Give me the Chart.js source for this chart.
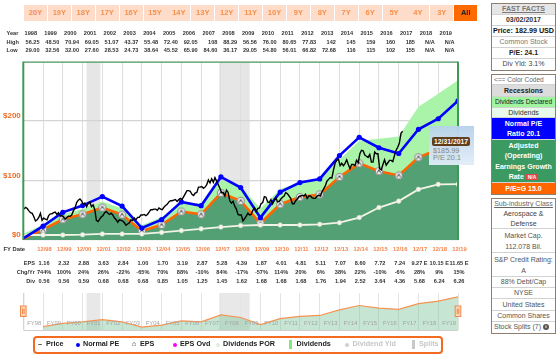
<!DOCTYPE html>
<html>
<head>
<meta charset="utf-8">
<script src="https://cdn.jsdelivr.net/npm/chart.js@4.4.1/dist/chart.umd.min.js"></script>
<style>
body{margin:0;width:558px;height:358px;overflow:hidden;background:#fff;position:relative;font-family:"Liberation Sans",Arial,sans-serif}
canvas{position:absolute;left:0;top:0}
.btn{position:absolute;top:5px;width:23px;height:16px;background:#fddcca;color:#f7904a;font:bold 7.5px "Liberation Sans";text-align:center;line-height:16px}
.btn.on{background:#ff6a00;color:#222}
.box{position:absolute;left:491px;width:63px;border:1.5px solid #8d7f70;background:#fff}
.row{box-sizing:border-box;text-align:center;font-size:7px;color:#555;border-bottom:1px solid #d2d2d2;overflow:hidden;white-space:nowrap}
.row:last-child{border-bottom:none}
.b{font-weight:bold}
#legend{position:absolute;left:33px;top:336px;width:406px;height:14px;border:2px solid #f26b21;border-radius:4px}
.lg{position:absolute;top:339px;font:bold 7.2px "Liberation Sans";color:#222;line-height:10px;white-space:nowrap}
.dot{position:absolute;width:4px;height:4px;border-radius:50%}
#tip{position:absolute;left:429px;top:126px;width:45px;height:39px;background:linear-gradient(#b7d1eb,#e3eef9);opacity:.95}
#tip .tl{position:absolute;left:3px;top:11px;width:38px;height:9px;background:#5c3513;color:#fff;font:bold 6.8px "Liberation Sans";line-height:9px;text-align:center;border-radius:2px}
#tip .tv{position:absolute;left:4px;font:7.3px "Liberation Sans";color:#888;line-height:8px}
</style>
</head>
<body>
<canvas id="main" width="558" height="358"></canvas>
<canvas id="nav" width="558" height="358"></canvas>
<div id="ranges"></div>

<div class="box" style="top:3px">
  <div class="row b" style="height:11px;line-height:10px;background:#e6e6e6;color:#777;text-decoration:underline">FAST FACTS</div>
  <div class="row b" style="height:11px;line-height:10px;color:#333">03/02/2017</div>
  <div class="row b" style="height:11px;line-height:10px;color:#111;font-size:7.2px">Price: 182.99 USD</div>
  <div class="row" style="height:11px;line-height:10px;color:#777">Common Stock</div>
  <div class="row b" style="height:11px;line-height:10px;color:#222">P/E: 24.1</div>
  <div class="row" style="height:11px;line-height:10px;color:#444">Div Yld: 3.1%</div>
</div>

<div class="box" style="top:74px">
  <div class="row" style="height:10px;line-height:9px;color:#666;font-size:6.5px;text-align:left;padding-left:2px">&lt;== Color Coded</div>
  <div class="row b" style="height:12px;line-height:11px;background:#dcdcdc;color:#222">Recessions</div>
  <div class="row" style="height:11px;line-height:10px;background:#9ef59e;color:#222;font-size:6.6px">Dividends Declared</div>
  <div class="row" style="height:10px;line-height:9px;background:#eafaea;color:#333">Dividends</div>
  <div class="row b" style="height:22px;line-height:10px;padding-top:1px;background:#0000ff;color:#fff;white-space:normal">Normal P/E<br>Ratio 20.1</div>
  <div class="row b" style="height:43px;line-height:10.3px;padding-top:1px;background:#3b9a62;color:#fff;white-space:normal">Adjusted<br>(Operating)<br>Earnings Growth<br>Rate <span style="background:#e8404a;color:#fff;font-size:5px;padding:0 2px;border-radius:1px">N/A</span></div>
  <div class="row b" style="height:11px;line-height:11px;background:#ff6600;color:#fff">P/E=G 15.0</div>
</div>

<div class="box" style="top:198px">
  <div class="row" style="height:10px;line-height:10px;color:#666;text-decoration:underline;border-bottom:none">Sub-industry Class</div>
  <div class="row" style="height:20px;line-height:9.5px;color:#444;white-space:normal">Aerospace &amp;<br>Defense</div>
  <div class="row" style="height:24px;line-height:11px;padding-top:1px;color:#555;white-space:normal">Market Cap.<br>112.078 Bil.</div>
  <div class="row" style="height:24px;line-height:11px;padding-top:1px;color:#555;white-space:normal">S&amp;P Credit Rating:<br>A</div>
  <div class="row" style="height:11px;line-height:10px">88% Debt/Cap</div>
  <div class="row" style="height:11px;line-height:10px">NYSE</div>
  <div class="row" style="height:12px;line-height:11px">United States</div>
  <div class="row" style="height:11px;line-height:10px">Common Shares</div>
  <div class="row" style="height:11px;line-height:10px;text-align:left;padding-left:2px">Stock Splits (7) <span style="display:inline-block;width:6px;height:6px;border-radius:50%;background:#555;color:#fff;font:bold 5px serif;line-height:6px;text-align:center;vertical-align:middle">i</span></div>
</div>

<div id="legend"></div>
<div class="lg" style="left:38px">–</div><div class="lg" style="left:46px">Price</div>
<div class="dot" style="left:75.5px;top:343px;background:#0000ff"></div><div class="lg" style="left:83px">Normal PE</div>
<div class="lg" style="left:132px;font-size:7px">⌂</div><div class="lg" style="left:140px">EPS</div>
<div class="dot" style="left:172.5px;top:343px;background:#ff00ff"></div><div class="lg" style="left:180px">EPS Ovd</div>
<div class="dot" style="left:215.5px;top:343px;background:#dcefdc"></div><div class="lg" style="left:223px">Dividends POR</div>
<div style="position:absolute;left:288.5px;top:340px;width:3px;height:9px;background:#7fe87f"></div><div class="lg" style="left:296.5px">Dividends</div>
<div class="dot" style="left:345px;top:343px;background:#cfcfcf"></div><div class="lg" style="left:352.5px;color:#c6c6c6">Dividend Yld</div>
<div style="position:absolute;left:411.5px;top:340px;width:3px;height:9px;background:#c8c8c8"></div><div class="lg" style="left:419px;color:#c6c6c6">Splits</div>

<div id="tip"><div class="tl">12/31/2017</div><div class="tv" style="top:21px">$185.99</div><div class="tv" style="top:28px">P/E 20.1</div></div>

<script>
// ---- values ----
const rangeLabels = ['20Y','19Y','18Y','17Y','16Y','15Y','14Y','13Y','12Y','11Y','10Y','9Y','8Y','7Y','6Y','5Y','4Y','3Y','All'];

const years = [1998,1999,2000,2001,2002,2003,2004,2005,2006,2007,2008,2009,2010,2011,2012,2013,2014,2015,2016,2017,2018,2019];
const highs = ['56.25','48.50','70.94','69.05','51.07','43.37','55.48','72.40','92.05','108','88.29','56.56','76.00','80.65','77.83','142','145','159','160','185','N/A','N/A'];
const lows = ['29.00','32.56','32.00','27.60','28.53','24.73','38.64','45.52','65.90','84.60','36.17','29.05','54.80','56.01','66.82','72.68','116','115','102','155','N/A','N/A'];

const fyLabels = ['12/98','12/99','12/00','12/01','12/02','12/03','12/04','12/05','12/06','12/07','12/08','12/09','12/10','12/11','12/12','12/13','12/14','12/15','12/16','12/17','12/18','12/19'];
const epsTable = [1.16,2.32,2.88,3.63,2.84,1.00,1.70,3.19,2.87,5.28,4.39,1.87,4.01,4.81,5.11,7.07,8.60,7.72,7.24,9.27,10.15,11.65];
const epsEstimated = [false,false,false,false,false,false,false,false,false,false,false,false,false,false,false,false,false,false,false,true,true,true];
const chgYr = [744,100,24,26,-22,-65,70,88,-10,84,-17,-57,114,20,6,38,22,-10,-6,28,9,15];
const divTable = [0.56,0.56,0.59,0.68,0.68,0.68,0.85,1.05,1.25,1.45,1.62,1.68,1.68,1.68,1.76,1.94,2.52,3.64,4.36,5.68,6.24,6.26];

// plotted lines, one value per fiscal year end, first one is 12/97
const normalPE = [2.8,23.3,46.6,57.9,73.0,57.1,20.1,34.2,64.1,57.7,106.1,88.2,37.6,80.6,96.7,102.7,142.1,172.9,155.2,145.5,186.3,204.0,234.2];
const epsLine  = [2.1,17.4,34.8,43.2,54.5,42.6,15.0,25.5,47.9,43.1,79.2,65.9,28.1,60.2,72.2,76.7,106.1,129.0,115.8,108.6,139.1,152.3,174.8];
const divLine  = [8.4,8.4,8.4,8.9,10.2,10.2,10.2,12.8,15.8,18.8,21.8,24.3,25.2,25.2,25.2,26.4,29.1,37.8,54.6,65.4,85.2,93.6,93.9];
const divTop   = [10.5,25.8,43.2,52.1,64.7,52.8,25.2,38.3,63.7,61.9,101.0,90.2,53.3,85.4,97.4,103.1,135.2,166.8,170.4,174.0,224.3,245.9,268.7];

// monthly closes, Jan 1998 .. Mar 2017
const priceMonthly = [
  52,55,53,49,46,45,39,32,34,38,45,33,
  37,35,34,41,44,44,46,47,43,46,40,41,
  39,35,38,40,40,42,49,54,63,67,69,66,
  60,62,56,62,64,56,59,51,33,31,35,39,
  41,46,48,45,43,45,42,37,34,30,34,33,
  32,29,25,27,29,34,33,37,34,38,38,42,
  42,43,41,43,47,51,51,52,52,50,54,52,
  51,55,58,60,64,66,66,67,68,65,68,70,
  68,73,78,83,83,82,77,75,79,80,89,89,
  90,87,89,93,101,96,103,97,105,99,93,87,
  80,80,74,84,80,66,62,65,57,52,43,42,
  42,32,36,40,45,42,43,50,54,48,53,54,
  61,63,73,72,64,63,68,61,67,71,64,65,
  69,72,74,80,78,74,70,61,61,66,69,73,
  74,75,74,77,70,74,74,71,70,70,74,75,
  74,81,86,91,99,102,105,104,118,130,134,136,
  125,129,125,129,135,127,120,127,127,125,134,130,
  145,151,150,143,141,139,144,131,131,148,145,145,
  120,118,127,135,126,130,134,134,132,142,151,156,
  163,180,183
];

const recessions = [[2001.2, 2001.9], [2007.92, 2009.46]];

// ---- range buttons ----
const rb = document.getElementById('ranges');
rangeLabels.forEach((t, i) => {
  const d = document.createElement('div');
  d.className = 'btn' + (t === 'All' ? ' on' : '');
  d.style.left = (24 + i * 23.9) + 'px';
  d.textContent = t;
  rb.appendChild(d);
});

Chart.defaults.font.family = '"Liberation Sans", Arial, sans-serif';
Chart.defaults.animation = false;

const byYear = arr => arr.map((v, i) => ({x: 1998 + i, y: v}));
const firstHidden = arr => arr.map((_, i) => i === 0 ? 0 : 3);

// EPS marker
const epsMark = document.createElement('canvas');
epsMark.width = epsMark.height = 10;
(function(){
  const m = epsMark.getContext('2d');
  m.beginPath(); m.arc(5, 5, 3.7, 0, Math.PI * 2);
  m.fillStyle = '#ececec'; m.fill();
  m.strokeStyle = '#8a8a8a'; m.lineWidth = 1; m.stroke();
  m.beginPath(); m.moveTo(3.2, 6.6); m.lineTo(5, 3.6); m.lineTo(6.8, 6.6);
  m.strokeStyle = '#333'; m.lineWidth = 0.9; m.stroke();
})();

const bandsPlugin = {
  id: 'bands',
  beforeDraw(chart) {
    const {ctx, chartArea: a, scales: {x}} = chart;
    ctx.save();
    ctx.fillStyle = '#e6e6e6';
    recessions.forEach(([s, e]) => {
      const l = x.getPixelForValue(s), r = x.getPixelForValue(e);
      ctx.fillRect(l, a.top, r - l, a.bottom - a.top);
    });
    ctx.restore();
  }
};

const framePlugin = {
  id: 'frame',
  afterDatasetsDraw(chart) {
    const {ctx, chartArea: a} = chart;
    ctx.save();
    ctx.strokeStyle = '#3c9a55';
    ctx.lineWidth = 1;
    ctx.beginPath(); ctx.moveTo(a.left, a.top + 0.5); ctx.lineTo(a.right, a.top + 0.5); ctx.stroke();
    ctx.lineWidth = 2;
    ctx.beginPath(); ctx.moveTo(a.left, a.top); ctx.lineTo(a.left, a.bottom); ctx.stroke();
    ctx.beginPath(); ctx.moveTo(a.right, a.top); ctx.lineTo(a.right, a.bottom); ctx.stroke();
    ctx.restore();
  }
};

const tablesPlugin = {
  id: 'tables',
  afterDraw(chart) {
    const {ctx, scales: {x}} = chart;
    ctx.save();
    ctx.textBaseline = 'middle';
    // year / high / low table above plot
    ctx.font = 'bold 5.6px "Liberation Sans"';
    ctx.fillStyle = '#333';
    ctx.textAlign = 'left';
    ctx.fillText('Year', 6.5, 33); ctx.fillText('High', 6.5, 42); ctx.fillText('Low', 6.5, 50);
    years.forEach((yr, i) => {
      const s = x.getPixelForValue(1998 + i), e = x.getPixelForValue(1999 + i);
      ctx.textAlign = 'center';
      ctx.fillText(String(yr), s + 7.5, 33);
      ctx.textAlign = 'right';
      ctx.fillText(highs[i], e - 3.5, 42);
      ctx.fillText(lows[i], e - 3.5, 50);
    });
    // FY date row
    ctx.textAlign = 'left';
    ctx.font = 'bold 5.8px "Liberation Sans"';
    ctx.fillStyle = '#333';
    ctx.fillText('FY Date', 3.5, 249.5);
    ctx.fillStyle = '#f4844a';
    ctx.textAlign = 'center';
    fyLabels.forEach((t, i) => ctx.fillText(t, x.getPixelForValue(1999 + i) + 1.5, 249.5));
    // EPS / Chg / Div rows
    ctx.fillStyle = '#333';
    ctx.font = 'bold 5.6px "Liberation Sans"';
    ctx.textAlign = 'right';
    ctx.fillText('EPS', 35, 263.5); ctx.fillText('Chg/Yr', 35, 272.5); ctx.fillText('Div', 35, 281.5);
    ctx.textAlign = 'center';
    epsTable.forEach((v, i) => {
      const px = x.getPixelForValue(1999 + i) + 1;
      ctx.fillText(v.toFixed(2) + (epsEstimated[i] ? ' E' : ''), px, 263.5);
      ctx.fillText(chgYr[i] + '%', px, 272.5);
      ctx.fillText(divTable[i].toFixed(2), px, 281.5);
    });
    ctx.restore();
  }
};

new Chart(document.getElementById('main'), {
  type: 'line',
  data: {
    datasets: [
      { label: 'Price', data: priceMonthly.map((v, i) => ({x: 1998 + (i + 0.4) / 12, y: v})),
        borderColor: '#000', borderWidth: 1.4, pointRadius: 0, tension: 0, order: 0 },
      { label: 'Normal PE', data: byYear(normalPE), borderColor: '#0000ff', borderWidth: 2.6,
        pointRadius: firstHidden(normalPE).map(r => r ? 2.6 : 0), pointBackgroundColor: '#0000ff', pointBorderWidth: 0, order: 1 },
      { label: 'EPS', data: byYear(epsLine), borderColor: '#ff6600', borderWidth: 2.6,
        backgroundColor: '#53a074', fill: 'origin', pointStyle: epsMark,
        pointRadius: firstHidden(epsLine), order: 3 },
      { label: 'Dividends POR', data: byYear(divLine), borderColor: '#f3f3e6', borderWidth: 1.8,
        pointRadius: firstHidden(divLine).map(r => r ? 2.3 : 0), pointBackgroundColor: '#f6f6ee', pointBorderColor: '#cfd8c8', pointBorderWidth: 0.6, order: 2 },
      { label: 'Dividends', data: byYear(divTop), borderColor: 'rgba(0,0,0,0)', borderWidth: 0,
        backgroundColor: '#aaf4aa', fill: 'origin', pointRadius: 0, order: 4 }
    ]
  },
  options: {
    responsive: false,
    layout: { padding: { top: 61.7, right: 100, bottom: 118, left: 0 } },
    plugins: { legend: { display: false }, tooltip: { enabled: false } },
    scales: {
      x: { type: 'linear', min: 1998, max: 2020,
        ticks: { display: false, stepSize: 1, autoSkip: false },
        grid: { color: '#dedede', drawTicks: false, lineWidth: 1 },
        border: { display: false },
        afterFit(s) { s.height = 0; } },
      y: { min: 0, max: 300,
        ticks: { stepSize: 100, color: '#f26b21', font: { size: 8, weight: 'bold' }, padding: 2.5, labelOffset: -5,
          callback: v => v === 300 ? '' : '$' + v },
        grid: { color: '#d4d4d4', drawTicks: false, lineWidth: 1.3 },
        border: { display: false },
        afterFit(s) { s.width = 23.3; } }
    }
  },
  plugins: [bandsPlugin, framePlugin, tablesPlugin]
});

// ---- navigator ----
const navPlugin = {
  id: 'navdeco',
  beforeDraw(chart) {
    const {ctx, chartArea: a, scales: {x}} = chart;
    ctx.save();
    ctx.fillStyle = '#e8e8e8';
    recessions.forEach(([s, e]) => {
      const l = x.getPixelForValue(s), r = x.getPixelForValue(e);
      ctx.fillRect(l, a.top, r - l, a.bottom - a.top);
    });
    ctx.restore();
  },
  afterDraw(chart) {
    const {ctx, chartArea: a, scales: {x}} = chart;
    ctx.save();
    ctx.strokeStyle = '#cfcfcf'; ctx.lineWidth = 1;
    ctx.beginPath(); ctx.moveTo(a.left + 0.5, a.top); ctx.lineTo(a.left + 0.5, a.bottom + 0.5); ctx.lineTo(a.right, a.bottom + 0.5); ctx.stroke();
    // FY98 highlight box
    const c0 = x.getPixelForValue(1998), c1 = x.getPixelForValue(1999);
    ctx.fillStyle = '#fff'; ctx.fillRect(c0 + 1.5, 319, c1 - c0 - 2, 10);
    ctx.font = '5.8px "Liberation Sans"';
    ctx.fillStyle = '#a3a3a3';
    ctx.textAlign = 'center'; ctx.textBaseline = 'middle';
    years.forEach((yr, i) => {
      const cx = (x.getPixelForValue(1998 + i) + x.getPixelForValue(1999 + i)) / 2 + 1;
      ctx.fillText('FY' + String(yr).slice(2), cx, 323.8);
    });
    // handles
    [a.left, a.right].forEach(hx => {
      ctx.fillStyle = '#fcd9bd'; ctx.strokeStyle = '#f0894a'; ctx.lineWidth = 1;
      ctx.fillRect(hx - 2.8, 306, 5.6, 10.5);
      ctx.strokeRect(hx - 2.8, 306, 5.6, 10.5);
      ctx.beginPath(); ctx.moveTo(hx - 0.8, 308.5); ctx.lineTo(hx - 0.8, 314); ctx.moveTo(hx + 0.8, 308.5); ctx.lineTo(hx + 0.8, 314); ctx.stroke();
    });
    ctx.restore();
  }
};

new Chart(document.getElementById('nav'), {
  type: 'line',
  data: {
    datasets: [{
      data: epsTable.map((v, i) => ({x: 1999 + i, y: v})),
      borderColor: '#f59452', borderWidth: 1.2, backgroundColor: 'rgba(120,196,150,0.42)',
      fill: 'origin', pointRadius: 0
    }]
  },
  options: {
    responsive: false,
    layout: { padding: { top: 293, right: 100, bottom: 28, left: 0 } },
    plugins: { legend: { display: false }, tooltip: { enabled: false } },
    scales: {
      x: { type: 'linear', min: 1998, max: 2020,
        ticks: { display: false, stepSize: 1, autoSkip: false },
        grid: { color: '#e4e4e4', drawTicks: false },
        border: { display: false },
        afterFit(s) { s.height = 0; } },
      y: { min: 0, max: 13, display: true,
        ticks: { display: false }, grid: { display: false }, border: { display: false },
        afterFit(s) { s.width = 23.3; } }
    }
  },
  plugins: [navPlugin]
});
</script>
</body>
</html>
